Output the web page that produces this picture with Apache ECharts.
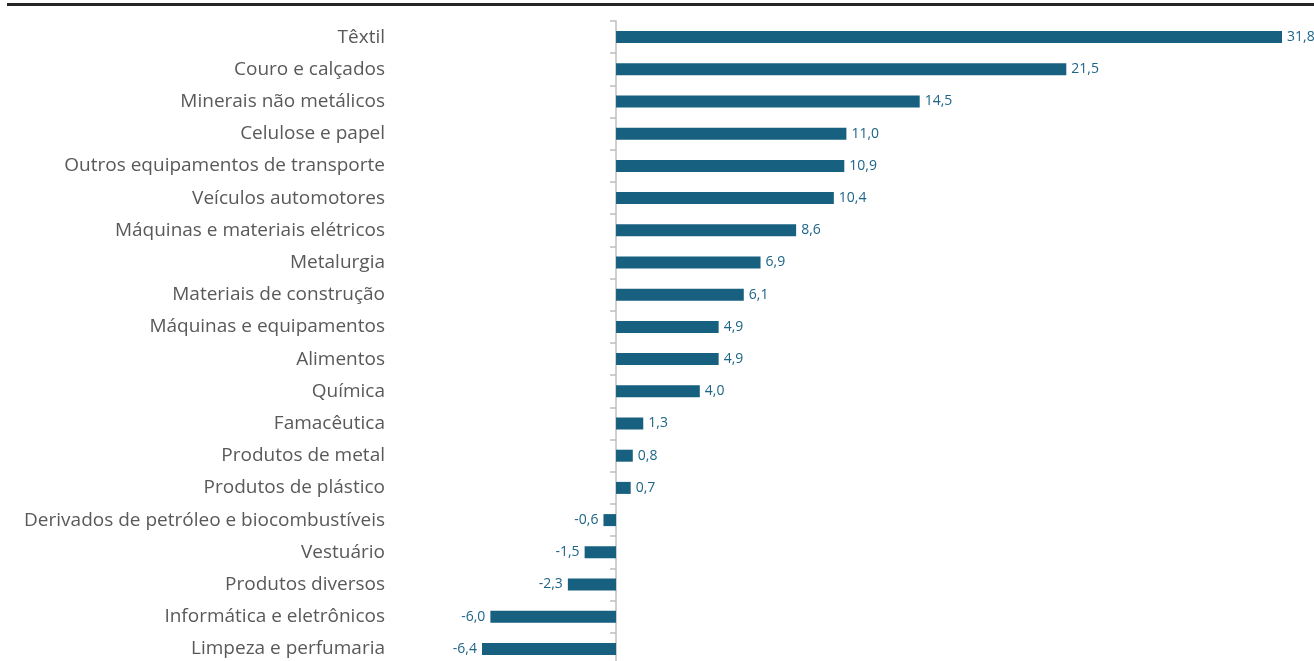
<!DOCTYPE html>
<html><head><meta charset="utf-8">
<script src="https://cdn.jsdelivr.net/npm/echarts@6/dist/echarts.min.js"></script>
<style>html,body{margin:0;padding:0;background:#fff}#c{width:1314px;height:661px}</style>
</head><body><div id="c"></div>
<script>
const categories = ["Têxtil","Couro e calçados","Minerais não metálicos","Celulose e papel","Outros equipamentos de transporte","Veículos automotores","Máquinas e materiais elétricos","Metalurgia","Materiais de construção","Máquinas e equipamentos","Alimentos","Química","Famacêutica","Produtos de metal","Produtos de plástico","Derivados de petróleo e biocombustíveis","Vestuário","Produtos diversos","Informática e eletrônicos","Limpeza e perfumaria"];
const values = [31.8,21.5,14.5,11.0,10.9,10.4,8.6,6.9,6.1,4.9,4.9,4.0,1.3,0.8,0.7,-0.6,-1.5,-2.3,-6.0,-6.4];

const chart = echarts.init(document.getElementById('c'), null, {renderer:'canvas'});
chart.setOption({
  animation:false,
  grid:{left:482, right:32, top:21, bottom:-4, containLabel:false, outerBoundsMode:'none'},
  graphic:[{type:'line', shape:{x1:7,y1:4.5,x2:1314,y2:4.5}, style:{stroke:'#262626', lineWidth:3}}],
  xAxis:{type:'value', min:-6.4, max:31.8, show:false, splitLine:{show:false}},
  yAxis:{type:'category', data:categories, inverse:true,
    axisLine:{show:true, onZero:true, lineStyle:{color:'#bfbfbf', width:1.5}},
    axisTick:{show:true, length:6, lineStyle:{color:'#bfbfbf', width:1.5}},
    axisLabel:{margin:97, color:'#595959', fontSize:19, fontFamily:'Open Sans'}
  },
  series:[{type:'bar', data:values.map(v=>({value:v, label:{position: v<0?'left':'right'}})), barWidth:12,
    itemStyle:{color:'#17607f'},
    label:{show:true, distance:5, color:'#1d6588', fontSize:14, fontFamily:'Open Sans',
      formatter:p=>p.value.toFixed(1).replace('.',',')}
  }]
});
</script></body></html>
